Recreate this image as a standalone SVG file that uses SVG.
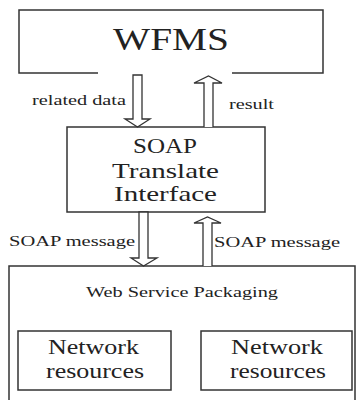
<svg xmlns="http://www.w3.org/2000/svg" width="356" height="400" viewBox="0 0 356 400">
<style>
.box{fill:none;stroke:#333;stroke-width:1.5}
.arr{fill:#fff;stroke:#333;stroke-width:1.3;stroke-linejoin:miter}
.lbl{font-size:15px}
.mid{font-size:21px}
</style>
<rect width="356" height="400" fill="#fff"/>
<g font-family="'Liberation Serif', 'Times New Roman', Times, serif" fill="#222">
<g id="wfms">
<path class="box" d="M98,73 H19 V10 H323 V73 H232"/>
<text x="113" y="50" font-size="32" textLength="116" lengthAdjust="spacingAndGlyphs">WFMS</text>
</g>
<g id="soap">
<rect class="box" x="67" y="127" width="198" height="85"/>
<text class="mid" x="133" y="153" textLength="64" lengthAdjust="spacingAndGlyphs">SOAP</text>
<text class="mid" x="112" y="178" textLength="107" lengthAdjust="spacingAndGlyphs">Translate</text>
<text class="mid" x="114" y="201" textLength="103" lengthAdjust="spacingAndGlyphs">Interface</text>
</g>
<g id="wsp">
<path class="box" d="M9,400 V266 H355 V400"/>
<text x="86" y="297" font-size="15" textLength="192" lengthAdjust="spacingAndGlyphs">Web Service Packaging</text>
</g>
<g id="nr1">
<rect class="box" x="18" y="331" width="153" height="59"/>
<text class="mid" x="48" y="354" textLength="91" lengthAdjust="spacingAndGlyphs">Network</text>
<text class="mid" x="46" y="378" textLength="98" lengthAdjust="spacingAndGlyphs">resources</text>
</g>
<g id="nr2">
<rect class="box" x="201" y="331" width="151" height="59"/>
<text class="mid" x="231" y="354" textLength="92" lengthAdjust="spacingAndGlyphs">Network</text>
<text class="mid" x="230" y="378" textLength="96" lengthAdjust="spacingAndGlyphs">resources</text>
</g>
<g id="connectors">
<path class="arr" d="M133,75 H142 V119 H150 L137.5,127 L125,119 H133 Z"/>
<path class="arr" d="M204,127 V83 H194 L208.5,76 L222,83 H213 V127"/>
<path class="arr" d="M139,212 H148 V258 H157 L143.5,266 L131,258 H139 Z"/>
<path class="arr" d="M203,266 V223 H194 L207.5,217 L221,223 H212 V266"/>
<text class="lbl" x="32" y="105" textLength="94" lengthAdjust="spacingAndGlyphs">related data</text>
<text class="lbl" x="229" y="109" textLength="45" lengthAdjust="spacingAndGlyphs">result</text>
<text class="lbl" x="9" y="246" textLength="126" lengthAdjust="spacingAndGlyphs">SOAP message</text>
<text class="lbl" x="214" y="247" textLength="126" lengthAdjust="spacingAndGlyphs">SOAP message</text>
</g>
</g>
</svg>
